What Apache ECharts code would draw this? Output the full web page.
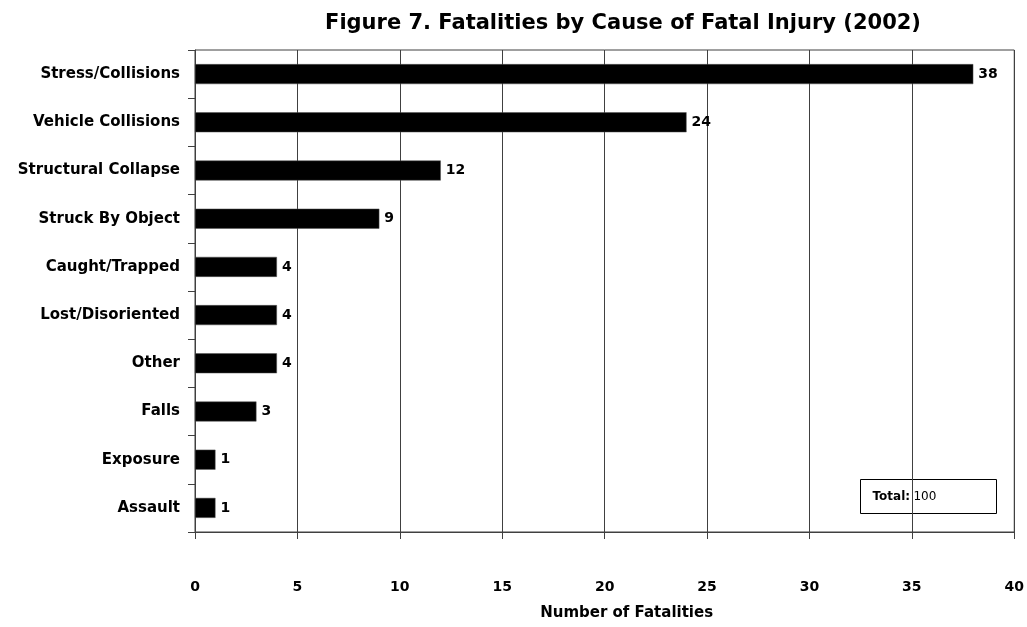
<!DOCTYPE html>
<html>
<head>
<meta charset="utf-8">
<script src="https://cdn.jsdelivr.net/npm/echarts@6/dist/echarts.min.js"></script>
<style>
  html, body { margin: 0; padding: 0; background: #fff; }
  #main { width: 1027px; height: 627px; }
</style>
</head>
<body>
<div id="main"></div>
<script>
// categories listed bottom to top (echarts draws the first category at the bottom)
var causes = ['Assault', 'Exposure', 'Falls', 'Other', 'Lost/Disoriented',
  'Caught/Trapped', 'Struck By Object', 'Structural Collapse', 'Vehicle Collisions', 'Stress/Collisions']
var fatalities = [1, 1, 3, 4, 4, 4, 9, 12, 24, 38]
var totalFatalities = 100

var FONT = '"DejaVu Sans", sans-serif'
var LINE = '#404040'

var chart = echarts.init(document.getElementById('main'))

var option = {
  animation: false,
  backgroundColor: '#fff',
  title: {
    text: 'Figure 7. Fatalities by Cause of Fatal Injury (2002)',
    left: 618,
    top: 8,
    textAlign: 'center',
    textStyle: { fontFamily: FONT, fontSize: 21, fontWeight: 'bold', color: '#000' }
  },
  grid: {
    left: 195,
    right: 11,
    top: 50,
    bottom: 95,
    show: true,
    borderColor: LINE,
    borderWidth: 1
  },
  xAxis: {
    type: 'value',
    min: 0,
    max: 40,
    interval: 5,
    name: 'Number of Fatalities',
    nameLocation: 'middle',
    nameGap: 74,
    nameTextStyle: { fontFamily: FONT, fontSize: 15, fontWeight: 'bold', color: '#000', padding: [0, 0, 0, 44] },
    axisLine: { show: true, lineStyle: { color: LINE, width: 1 } },
    axisTick: { show: true, length: 7, lineStyle: { color: LINE } },
    axisLabel: { margin: 48, fontFamily: FONT, fontSize: 14, fontWeight: 'bold', color: '#000' },
    splitLine: { show: true, lineStyle: { color: LINE, width: 1 } }
  },
  yAxis: {
    type: 'category',
    data: causes,
    axisLine: { show: true, lineStyle: { color: LINE, width: 1 } },
    axisTick: { show: true, length: 7, lineStyle: { color: LINE } },
    axisLabel: { margin: 15, fontFamily: FONT, fontSize: 15, fontWeight: 'bold', color: '#000' }
  },
  series: [{
    type: 'bar',
    data: fatalities,
    barWidth: 20,
    itemStyle: { color: '#000', borderColor: '#555', borderWidth: 0.5 },
    label: {
      show: true,
      position: 'right',
      distance: 5,
      fontFamily: FONT,
      fontSize: 14,
      fontWeight: 'bold',
      color: '#000'
    }
  }],
  graphic: [{
    type: 'group',
    left: 860,
    top: 479,
    children: [{
      type: 'rect',
      shape: { x: 0, y: 0, width: 136, height: 34 },
      style: { fill: '#fff', stroke: '#000', lineWidth: 1 }
    }, {
      type: 'text',
      x: 12,
      y: 17,
      style: {
        text: '{b|Total:} {r|' + totalFatalities + '}',
        verticalAlign: 'middle',
        rich: {
          b: { fontFamily: FONT, fontSize: 12, fontWeight: 'bold', fill: '#000' },
          r: { fontFamily: FONT, fontSize: 12, fill: '#000' }
        }
      }
    }]
  }]
}

option && chart.setOption(option)
</script>
</body>
</html>
